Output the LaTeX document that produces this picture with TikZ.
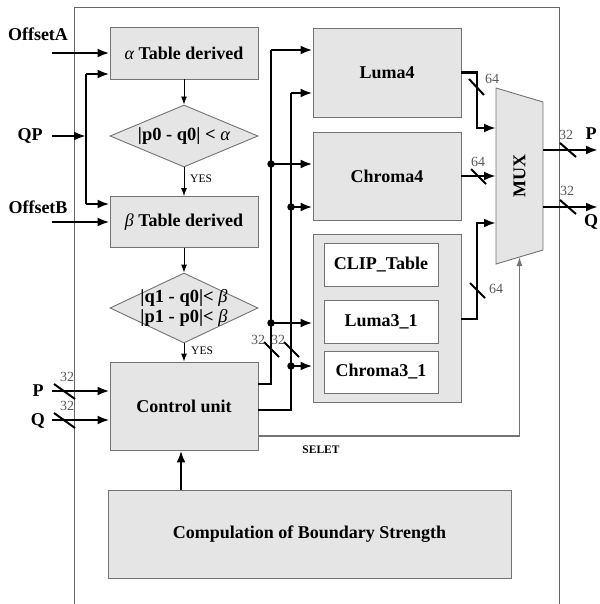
\documentclass[tikz,border=0pt]{standalone}
\usepackage{fontspec}
\setmainfont{Liberation Serif}
\usetikzlibrary{arrows.meta,shapes.geometric,calc}
\begin{document}
\begin{tikzpicture}[x=1pt,y=-1pt,
  blk/.style={draw=black!55, fill=black!10, line width=0.9pt, inner sep=0pt, font=\fontsize{18}{20}\selectfont\bfseries},
  wblk/.style={draw=black!55, fill=white, line width=0.9pt, inner sep=0pt, font=\fontsize{18}{20}\selectfont\bfseries},
  dia/.style={draw=black!55, fill=black!10, line width=0.9pt, diamond, inner sep=0pt},
  sig/.style={line width=2.4pt, -{Latex[length=12pt,width=9pt]}},
  sigline/.style={line width=2.4pt},
  thin/.style={line width=0.9pt, -{Latex[length=8pt,width=6pt]}},
  slashmark/.style={line width=2pt},
  num/.style={font=\fontsize{14}{15}\selectfont, text=black!65, inner sep=0pt},
  lab/.style={font=\fontsize{18}{20}\selectfont\bfseries, inner sep=0pt},
  dot/.style={circle, fill=black, inner sep=0pt, minimum size=7.5pt},
]
\useasboundingbox (0,0) rectangle (599,604);
% outer frame
\draw[black!60, line width=0.9pt] (74,604) -- (74,7) -- (559,7) -- (559,604);

% left column
\node[blk, minimum width=148pt, minimum height=52pt] (alpha) at (184,53) {{\mdseries\itshape α}\ Table derived};
\node[dia, minimum width=148pt, minimum height=62pt] (d1) at (184,136) {};
\node[lab, font=\fontsize{18.5}{19}\selectfont\bfseries] (d1t) at (d1) {|p0 - q0| < {\mdseries\itshape α}};
\node[blk, minimum width=148pt, minimum height=51pt] (beta) at (184,222) {{\mdseries\itshape β}\ Table derived};
\node[dia, minimum width=148pt, minimum height=70pt] (d2) at (184,308) {};
\node[lab, font=\fontsize{18.5}{19.5}\selectfont\bfseries, align=center] (d2t) at (d2) {|q1 - q0|< {\mdseries\itshape β}\\|p1 - p0|< {\mdseries\itshape β}};
\node[blk, minimum width=148pt, minimum height=88pt] (ctrl) at (184,406) {Control unit};
\node[blk, minimum width=403pt, minimum height=88pt] (comp) at (309.5,534) {Compulation of Boundary Strength};

% middle column
\node[blk, minimum width=148pt, minimum height=89pt] (luma4) at (387,72.5) {Luma4};
\node[blk, minimum width=148pt, minimum height=88pt] (chroma4) at (387,176) {Chroma4};
\node[blk, minimum width=148pt, minimum height=168pt] (grp) at (387,318) {};
\node[wblk, minimum width=114pt, minimum height=43pt] (clip) at (381,264.5) {CLIP\_Table};
\node[wblk, minimum width=114pt, minimum height=43pt] (luma31) at (381,321.5) {Luma3\_1};
\node[wblk, minimum width=114pt, minimum height=42pt] (chroma31) at (381,372) {Chroma3\_1};

% MUX
\coordinate (mtl) at (496,88);
\coordinate (mtr) at (543,102);
\coordinate (mbr) at (543,250);
\coordinate (mbl) at (496,264);
\draw[draw=black!55, fill=black!10, line width=0.9pt] (mtl) -- (mtr) -- (mbr) -- (mbl) -- cycle;
\node[lab, rotate=90] (mux) at (519.5,176) {MUX};

% flowchart arrows
\draw[thin] (alpha.south) -- (d1.north);
\draw[thin] (d1.south) -- (beta.north);
\node[font=\fontsize{11.5}{12}\selectfont, anchor=west, inner sep=0pt] (yes1) at (190,179) {YES};
\draw[thin] (beta.south) -- (d2.north);
\draw[thin] (d2.south) -- (ctrl.north);
\node[font=\fontsize{11.5}{12}\selectfont, anchor=west, inner sep=0pt] (yes2) at (191,351) {YES};
\draw[sig] (comp.north -| 181,0) -- (ctrl.south -| 181,0);

% inputs
\node[lab] (offA) at (38,34) {OffsetA};
\coordinate (inx) at (52,0);
\draw[sig] (inx |- alpha.west) -- (alpha.west);
\node[lab] (qp) at (30,136) {QP};
\coordinate (qb) at (86,0);
\coordinate (ain) at ([yshift=-21pt]alpha.west);
\coordinate (bin) at ([yshift=18pt]beta.west);
\draw[sig] (inx |- d1) -- (qb |- d1);
\draw[sigline] (qb |- ain) -- (qb |- bin);
\draw[sig] (qb |- ain) -- (ain);
\draw[sig] (qb |- bin) -- (bin);
\node[lab] (offB) at (38,207) {OffsetB};
\draw[sig] (inx |- beta.west) -- (beta.west);
\coordinate (pin) at ([yshift=15pt]ctrl.west);
\coordinate (qin) at ([yshift=-14pt]ctrl.west);
\node[lab] (pl) at (38,391) {P};
\node[lab] (ql) at (38,421) {Q};
\draw[sig] (inx |- pin) -- (pin);
\draw[sig] (inx |- qin) -- (qin);
\draw[slashmark] (54,384) -- (75,399);
\draw[slashmark] (54,413) -- (75,428);
\node[num] (n1) at (67,377) {32};
\node[num] (n2) at (67,406) {32};

% buses from control unit
\coordinate (b1) at (271,0);
\coordinate (b2) at (291,0);
\coordinate (L4a) at ([yshift=22.5pt]luma4.west);
\coordinate (L4b) at ([yshift=-20.5pt]luma4.west);
\coordinate (C4a) at ([yshift=12pt]chroma4.west);
\coordinate (C4b) at ([yshift=-31pt]chroma4.west);
\coordinate (G1) at ([yshift=-5pt]grp.west);
\coordinate (G2) at ([yshift=-48pt]grp.west);
\draw[sigline] ([yshift=22pt]ctrl.east) -| (b1 |- L4a);
\draw[sig] (b1 |- L4a) -- (L4a);
\draw[sig] (b1 |- C4a) -- (C4a);
\draw[sig] (b1 |- G1) -- (G1);
\node[dot] at (b1 |- C4a) {};
\node[dot] at (b1 |- G1) {};
\draw[sigline] ([yshift=-4pt]ctrl.east) -| (b2 |- L4b);
\draw[sig] (b2 |- L4b) -- (L4b);
\draw[sig] (b2 |- C4b) -- (C4b);
\draw[sig] (b2 |- G2) -- (G2);
\node[dot] at (b2 |- C4b) {};
\node[dot] at (b2 |- G2) {};
\draw[slashmark] (264,342) -- (279,357);
\draw[slashmark] (284,342) -- (299,357);
\node[num] (n3) at (258,340) {32};
\node[num] (n4) at (278,340) {32};

% SELET
\coordinate (muxS) at (519.5,257);
\draw[black!55, line width=1.2pt, -{Latex[length=9pt,width=6pt]}] ([yshift=-30pt]ctrl.east) -| (muxS);
\node[font=\fontsize{11.5}{12}\selectfont\bfseries, inner sep=0pt] (selet) at (321,450) {SELET};

% outputs to MUX
\coordinate (c1) at (477,0);
\coordinate (M1) at (496,128);
\coordinate (M2) at (496,176);
\coordinate (M3) at (496,223);
\draw[sig] (luma4.east) -- (c1 |- luma4.east) -- (c1 |- M1) -- (M1);
\draw[slashmark] (469,79) -- (484,95);
\node[num] (n5) at (492,79) {64};
\draw[sig] (chroma4.east) -- (M2);
\draw[slashmark] (471,169) -- (486,184);
\node[num] (n6) at (478,162) {64};
\coordinate (g3) at ([yshift=-1pt]grp.east);
\draw[sig] (g3) -- (c1 |- g3) -- (c1 |- M3) -- (M3);
\draw[slashmark] (470,283) -- (485,298);
\node[num] (n7) at (496,289) {64};

% MUX outputs
\coordinate (Po) at (598,150);
\coordinate (Qo) at (598,207);
\draw[sig] (mtr |- Po) -- (Po);
\draw[sig] (mtr |- Qo) -- (Qo);
\draw[slashmark] (560,143) -- (576,157);
\draw[slashmark] (560,200) -- (576,214);
\node[num] (n8) at (566,135) {32};
\node[num] (n9) at (567,191) {32};
\node[lab] (Pout) at (591,134) {P};
\node[lab] (Qout) at (591,222) {Q};
\end{tikzpicture}
\end{document}
